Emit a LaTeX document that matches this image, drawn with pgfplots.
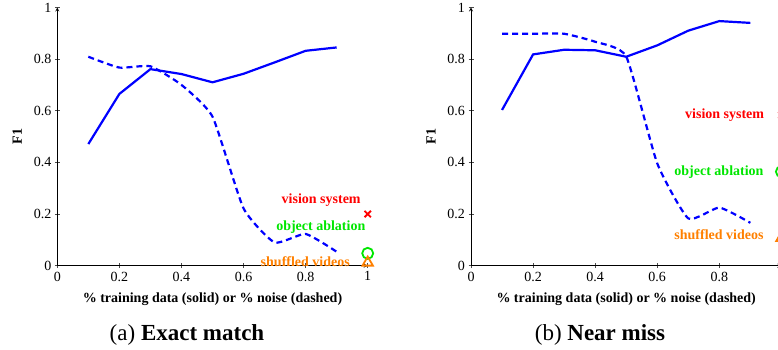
\documentclass[border=0pt]{standalone}
\usepackage{pgfplots}
\pgfplotsset{compat=1.18}
\usepackage{fontspec}
\setmainfont{Liberation Serif}
\definecolor{vsred}{RGB}{255,0,0}
\definecolor{oagreen}{RGB}{0,230,0}
\definecolor{svorange}{RGB}{255,128,0}
\pgfplotsset{
  panel/.style={
    anchor=south west, scale only axis, width=310.4pt, height=258.3pt,
    xmin=0, xmax=1, ymin=0, ymax=1,
    axis lines=left, clip=false,
    axis line style={line width=0.8pt},
    xtick={0,0.2,0.4,0.6,0.8,1}, ytick={0,0.2,0.4,0.6,0.8,1},
    tick align=center, major tick length=5pt,
    tick style={line width=0.6pt, black!70},
    /pgf/number format/assume math mode=true,
    tick label style={font=\fontsize{14}{16}\selectfont},
    label style={font=\fontsize{14}{16}\selectfont\bfseries},
    xlabel={\% training data (solid) or \% noise (dashed)},
    ylabel={F1},
    xlabel style={yshift=-5pt},
    ylabel style={yshift=5pt},
  },
  solidline/.style={blue, line width=2.2pt},
  dashline/.style={blue, line width=2.2pt, dash pattern=on 6pt off 4pt, smooth, tension=0.3},
}
\begin{document}
\begin{tikzpicture}
\path[use as bounding box] (0,0) rectangle (778pt,349pt);
\clip (0,0) rectangle (778pt,349pt);
\begin{axis}[panel, at={(57.3pt,83.3pt)}]
\addplot[solidline] coordinates {(0.1,0.471) (0.2,0.665) (0.3,0.761) (0.4,0.742) (0.5,0.710) (0.6,0.743) (0.7,0.787) (0.8,0.832) (0.9,0.845)};
\addplot[dashline] coordinates {(0.1,0.809) (0.2,0.767) (0.3,0.772) (0.4,0.700) (0.5,0.577) (0.6,0.222) (0.7,0.090) (0.8,0.123) (0.9,0.054)};
\addplot[only marks, mark=x, mark size=4.5pt, vsred, line width=1.8pt] coordinates {(1,0.2)};
\addplot[only marks, mark=o, mark size=5.5pt, oagreen, line width=1.8pt] coordinates {(1,0.048)};
\addplot[only marks, mark=triangle, mark size=6pt, svorange, line width=1.8pt] coordinates {(1,0.012)};
\node[anchor=east, text=vsred, font=\fontsize{14}{16}\selectfont\bfseries, inner sep=0pt] at (axis cs:0.978,0.252) {vision system};
\node[anchor=east, text=oagreen, font=\fontsize{14}{16}\selectfont\bfseries, inner sep=0pt] at (axis cs:0.993,0.151) {object ablation};
\node[anchor=east, text=svorange, font=\fontsize{14}{16}\selectfont\bfseries, inner sep=0pt] at (axis cs:0.943,0.0155) {shuffled videos};
\end{axis}
\begin{axis}[panel, at={(471pt,83.3pt)}, xticklabels={0,0.2,0.4,0.6,0.8,{}}]
\addplot[solidline] coordinates {(0.1,0.603) (0.2,0.818) (0.3,0.836) (0.4,0.834) (0.5,0.809) (0.6,0.853) (0.7,0.910) (0.8,0.947) (0.9,0.940)};
\addplot[dashline] coordinates {(0.1,0.898) (0.2,0.898) (0.3,0.898) (0.4,0.867) (0.5,0.810) (0.6,0.396) (0.7,0.183) (0.8,0.225) (0.9,0.166)};
\addplot[only marks, mark=x, mark size=4.5pt, vsred, line width=1.8pt] coordinates {(1,0.583)};
\addplot[only marks, mark=o, mark size=5.5pt, oagreen, line width=1.8pt] coordinates {(1,0.364)};
\addplot[only marks, mark=triangle, mark size=6pt, svorange, line width=1.8pt] coordinates {(1,0.107)};
\node[anchor=east, text=vsred, font=\fontsize{14}{16}\selectfont\bfseries, inner sep=0pt] at (axis cs:0.945,0.583) {vision system};
\node[anchor=east, text=oagreen, font=\fontsize{14}{16}\selectfont\bfseries, inner sep=0pt] at (axis cs:0.943,0.364) {object ablation};
\node[anchor=east, text=svorange, font=\fontsize{14}{16}\selectfont\bfseries, inner sep=0pt] at (axis cs:0.943,0.119) {shuffled videos};
\end{axis}
\node[anchor=base, font=\fontsize{23}{26}\selectfont] at (187pt,9pt) {(a) \textbf{Exact match}};
\node[anchor=base, font=\fontsize{23}{26}\selectfont] at (600pt,9pt) {(b) \textbf{Near miss}};
\end{tikzpicture}
\end{document}
